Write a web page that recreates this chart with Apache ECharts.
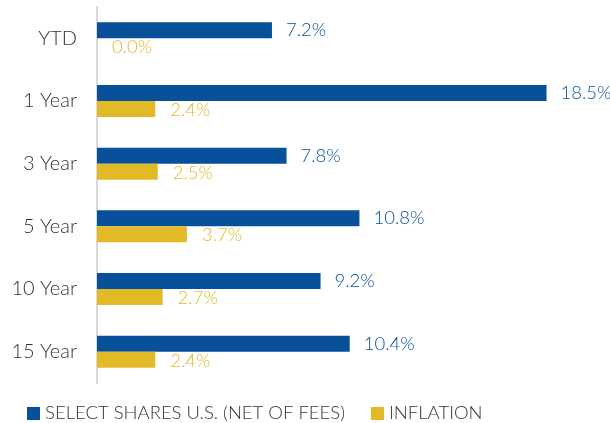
<!DOCTYPE html>
<html>
<head>
<meta charset="utf-8">
<script src="https://cdn.jsdelivr.net/npm/echarts@6/dist/echarts.min.js"></script>
<style>html,body{margin:0;padding:0;background:#fff}#c{width:610px;height:423px}</style>
</head>
<body>
<div id="c"></div>
<script>
const categories = ['YTD', '1 Year', '3 Year', '5 Year', '10 Year', '15 Year'];
const selectShares = [7.2, 18.5, 7.8, 10.8, 9.2, 10.4];
const inflation = [0.0, 2.4, 2.5, 3.7, 2.7, 2.4];
const seriesNames = ['SELECT SHARES U.S. (NET OF FEES)', 'INFLATION'];

const FONT = 'Lato';
const BLUE = '#08519a';
const GOLD = '#e2ba27';
const chart = echarts.init(document.getElementById('c'), null, {renderer: 'canvas'});
const fmt = p => p.value.toFixed(1) + '%';
chart.setOption({
  animation: false,
  textStyle: {fontFamily: FONT},
  grid: {left: 97, right: 27, top: 7, bottom: 40, containLabel: false},
  xAxis: {type: 'value', min: 0, max: 20, show: false},
  yAxis: {
    type: 'category', data: categories, inverse: true,
    axisLine: {show: true, lineStyle: {color: '#d9d9d9', width: 2}},
    axisTick: {show: false},
    axisLabel: {color: '#333333', fontSize: 20, fontWeight: 300, fontFamily: FONT, margin: 20}
  },
  legend: {
    top: 399, left: 22, icon: 'rect', itemWidth: 13, itemHeight: 13, itemGap: 26,
    textStyle: {color: '#333333', fontSize: 18.5, fontWeight: 300, fontFamily: FONT},
    data: seriesNames
  },
  series: [
    {name: seriesNames[0], type: 'bar', data: selectShares, barWidth: 16, barGap: '0%',
     itemStyle: {color: BLUE},
     label: {show: true, position: 'right', distance: 14, color: BLUE, fontSize: 18.5, fontWeight: 300, fontFamily: FONT, formatter: fmt}},
    {name: seriesNames[1], type: 'bar', data: inflation, barWidth: 16, barGap: '0%',
     itemStyle: {color: GOLD},
     label: {show: true, position: 'right', distance: 15, offset: [0, 1], color: GOLD, fontSize: 18.5, fontWeight: 300, fontFamily: FONT, formatter: fmt}}
  ]
});
</script>
</body>
</html>
